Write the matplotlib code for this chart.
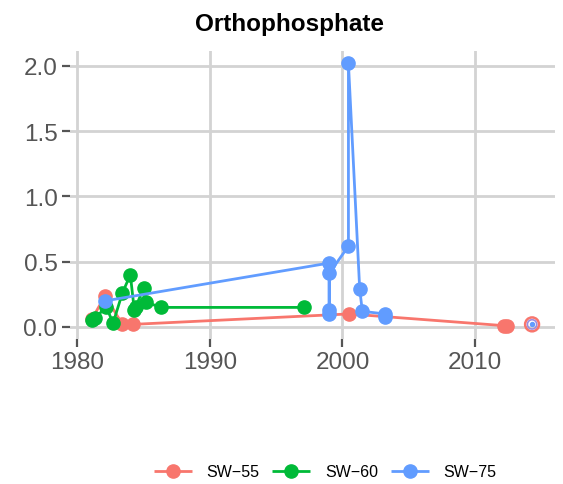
import matplotlib.pyplot as plt

plt.rcParams['font.family'] = ['Liberation Sans', 'DejaVu Sans']

# Orthophosphate samples per site (decimal year, value)
sw55_year = [1981.1, 1982.1, 1983.4, 1984.2, 2000.5, 2012.2, 2012.4]
sw55_val = [0.06, 0.24, 0.02, 0.02, 0.10, 0.01, 0.01]

sw60_year = [1981.1, 1981.3, 1982.2, 1982.7, 1983.4, 1984.0, 1984.3, 1984.4, 1985.0, 1985.2, 1986.3, 1997.1]
sw60_val = [0.05, 0.07, 0.15, 0.03, 0.26, 0.40, 0.13, 0.15, 0.30, 0.19, 0.15, 0.15]

sw75_year = [1982.1, 1999.0, 1999.0, 1999.0, 1999.0, 2000.45, 2000.45, 2001.3, 2001.5, 2003.2, 2003.2]
sw75_val = [0.20, 0.49, 0.10, 0.13, 0.41, 0.62, 2.02, 0.29, 0.12, 0.10, 0.08]

# separate flagged samples drawn without a connecting line
flag_year = [2014.3]
flag_val = [0.02]

labels = ['SW\u221255', 'SW\u221260', 'SW\u221275']
colors = ['#F8766D', '#00BA38', '#619CFF']

fig = plt.figure(figsize=(5.63, 4.85), dpi=100)
ax = fig.add_axes([70 / 563, 0.299, 485 / 563, 0.5938])

series = [(sw55_year, sw55_val), (sw60_year, sw60_val), (sw75_year, sw75_val)]
for (xs, ys), lab, col in zip(series, labels, colors):
    ax.plot(xs, ys, color=col, lw=2.0, marker='o', ms=9.5, mec=col, mfc=col,
            label=lab, zorder=3, solid_capstyle='butt')

ax.scatter(flag_year, flag_val, s=100, facecolors='none', edgecolors=colors[0], linewidths=1.8, zorder=4)
ax.scatter(flag_year, flag_val, s=45, facecolors='none', edgecolors='#9b8ce0', linewidths=1.2, zorder=4)
ax.scatter(flag_year, flag_val, s=8, color=colors[2], zorder=5)

ax.set_xlim(1979.45, 2016.03)
ax.set_ylim(-0.092, 2.115)
ax.set_xticks([1980, 1990, 2000, 2010])
ax.set_yticks([0.0, 0.5, 1.0, 1.5, 2.0])
ax.set_yticklabels(['0.0', '0.5', '1.0', '1.5', '2.0'])

ax.grid(True, color='#d3d3d3', lw=2.0, zorder=0)
ax.set_axisbelow(True)
for s in ax.spines.values():
    s.set_visible(False)
ax.tick_params(axis='both', length=6, width=1.6, color='#555555', labelcolor='#555555',
               labelsize=17.5, pad=3)

fig.text(290 / 563, 1 - 24 / 485, 'Orthophosphate', ha='center', va='center',
         fontsize=17.5, fontweight='bold')

fig.legend(loc='center', bbox_to_anchor=(325 / 563, 1 - 473 / 485), ncol=3, frameon=False,
           fontsize=11.5, handlelength=2.4, columnspacing=0.8, handletextpad=0.9)

fig.savefig('out.png', dpi=100)
